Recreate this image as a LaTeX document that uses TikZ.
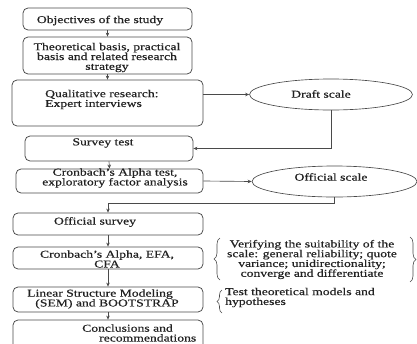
\documentclass[tikz,border=0pt]{standalone}
\usepackage{fontspec}
\setmainfont[FakeStretch=1.3,FakeBold=0.5]{Liberation Serif}
\usetikzlibrary{arrows.meta,shapes.geometric,decorations.pathreplacing}
\definecolor{ln}{HTML}{4A4A4A}
\definecolor{tx}{HTML}{222222}
\begin{document}
\begin{tikzpicture}[x=1pt,y=-1pt,
  box/.style={draw=ln, rounded corners=5pt, line width=0.75pt, inner sep=0pt},
  txt/.style={text=tx, font=\fontsize{10.5}{9.8}\selectfont, inner sep=0pt, align=center},
  ell/.style={draw=ln, ellipse, line width=0.65pt, inner sep=0pt},
  arr/.style={draw=ln, line width=0.65pt, -{Stealth[length=4pt,width=3.5pt]}},
  brc/.style={draw=ln, line width=0.6pt, decorate, decoration={brace, amplitude=6pt}}]
\useasboundingbox (0,0) rectangle (417,343);
\clip (0,0) rectangle (417,343);
\fill[white] (0,0) rectangle (417,343);

% boxes
\node[box, minimum width=169pt, minimum height=22pt] (b1) at (107.5,19) {};
\node[box, minimum width=169pt, minimum height=37pt] (b2) at (107.5,55.5) {};
\node[box, minimum width=191pt, minimum height=46pt] (b3) at (107.5,103) {};
\node[box, minimum width=168pt, minimum height=25pt] (b4) at (109,148.5) {};
\node[box, minimum width=187pt, minimum height=24pt] (b5) at (109.5,181) {};
\node[box, minimum width=190pt, minimum height=22pt] (b6) at (108,224) {};
\node[box, minimum width=190pt, minimum height=22pt] (b7) at (108,258) {};
\node[box, minimum width=190pt, minimum height=25pt] (b8) at (108,299.5) {};
\node[box, minimum width=190pt, minimum height=32pt] (b9) at (108,336) {};

% box texts
\node[txt] (t1) at (100,20.5) {Objectives of the study};
\node[txt] (t2) at (107,57.5) {Theoretical basis, practical\\basis and related research\\strategy};
\node[txt, anchor=west, align=left] (t3) at (45,99.5) {Qualitative research:\\Expert interviews};
\node[txt] (t4) at (103,143) {Survey test};
\node[txt] (t5) at (115,178) {Cronbach's Alpha test,\\exploratory factor analysis};
\node[txt] (t6) at (95,222) {Official survey};
\node[txt] (t7) at (107,259) {Cronbach's Alpha, EFA,\\CFA};
\node[txt] (t8) at (100,299) {Linear Structure Modeling\\\hspace*{14pt}(SEM) and BOOTSTRAP};
\node[txt, anchor=west, align=left] (t9) at (82,333) {Conclusions and\\\hspace*{17pt}recommendations};

% ellipses
\node[ell, minimum width=163pt, minimum height=31pt] (draft) at (331,94.5) {};
\node[txt] (td) at (321,94) {Draft scale};
\node[ell, minimum width=165pt, minimum height=31pt] (official) at (334.5,181.5) {};
\node[txt] (to) at (331,177) {Official scale};

% side notes
\node[txt] (n1) at (312,259.5) {Verifying the suitability of the\\scale: general reliability; quote\\variance; unidirectionality;\\converge and differentiate};
\node[txt, anchor=west, align=left] (n2) at (225,297.5) {Test theoretical models and\\hypotheses};
\draw[brc] (220,280) -- (220,238);
\draw[brc] (410,237) -- (410,282);
\draw[brc, decoration={brace, amplitude=5pt}] (222,313) -- (222,290);

% connectors
\draw[arr] (b1.south) -- (b2.north);
\draw[arr] (b2.south) -- (b3.north);
\draw[arr] (b3.east |- draft.west) -- (draft.west);
\draw[arr] (draft.south) |- (b4.east);
\draw[arr] (b4.south) -- (b5.north);
\draw[arr] (b5.east) -- (official.west);
\draw[arr] (official.south) -- ++(0,6) -| (b6.north);
\draw[arr] (b6.south) -- (b7.north);
\draw[arr] (b7.south) -- (b8.north);
\draw[arr] (b8.south) -- (b9.north);
\end{tikzpicture}
\end{document}
